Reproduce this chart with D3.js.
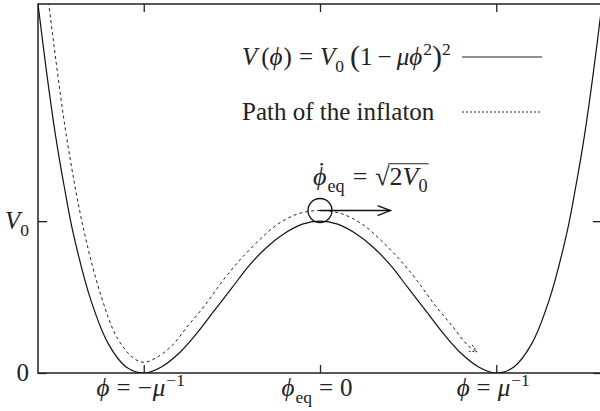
<!DOCTYPE html>
<html>
<head>
<meta charset="utf-8">
<script src="https://cdn.jsdelivr.net/npm/d3@7"></script>
</head>
<body style="margin:0">
<script>
// potential V(phi) (units of V0, phi in units of 1/mu)
var phi = [-1.6, -1.55, -1.5, -1.45, -1.4, -1.3, -1.2, -1.1, -1.0, -0.9, -0.8, -0.7, -0.6, -0.5, -0.4, -0.3, -0.2, -0.1, 0,
           0.1, 0.2, 0.3, 0.4, 0.5, 0.6, 0.7, 0.8, 0.9, 1.0, 1.1, 1.2, 1.3, 1.4, 1.45, 1.5, 1.55, 1.6]
var potential = [2.43, 1.97, 1.56, 1.22, 0.92, 0.48, 0.19, 0.04, 0, 0.04, 0.13, 0.26, 0.41, 0.56, 0.71, 0.83, 0.92, 0.98, 1,
                 0.98, 0.92, 0.83, 0.71, 0.56, 0.41, 0.26, 0.13, 0.04, 0, 0.04, 0.19, 0.48, 0.92, 1.22, 1.56, 1.97, 2.43]

// dashed "path of the inflaton"
var pathPhi = [-1.54, -1.44, -1.34, -1.24, -1.15, -1.06, -1.0, -0.93, -0.84, -0.75, -0.65, -0.55, -0.45, -0.34, -0.24, -0.12, 0,
               0.12, 0.24, 0.34, 0.45, 0.55, 0.65, 0.75, 0.84, 0.89]
var pathV = [2.44, 1.57, 0.94, 0.50, 0.23, 0.10, 0.07, 0.10, 0.18, 0.31, 0.45, 0.61, 0.75, 0.88, 0.98, 1.05, 1.07,
             1.05, 0.98, 0.88, 0.75, 0.61, 0.45, 0.31, 0.18, 0.14]

var xTicks = [-1, 0, 1]
var yTicks = [0, 1]
// label pieces: [text, kind, gap before]  kind: "" roman, "i" italic, "sub", "sup", "big"
var xTickLabels = [
  [["ϕ", "i"], ["=", "", 7], ["−", "", 7], ["μ", "i", 1], ["−1", "sup", 1]],
  [["ϕ", "i"], ["eq", "sub", 1], ["=", "", 7], ["0", "", 7]],
  [["ϕ", "i"], ["=", "", 7], ["μ", "i", 7], ["−1", "sup", 1]]
]
var yTickLabels = [
  [["0", ""]],
  [["V", "i"], ["0", "sub"]]
]
var legendLabels = [
  [["V", "i"], ["(", "", 4], ["ϕ", "i"], [")", "", 1], ["=", "", 7], ["V", "i", 7], ["0", "sub"], ["(", "big", 6], ["1", ""], ["−", "", 5],
   ["μϕ", "i", 5], ["2", "sup", 1], [")", "big"], ["2", "sup"]],
  [["Path of the inflaton", ""]]
]
var kickPhi = 0, kickV = 1.07, kickTo = 0.4   // circle + velocity arrow
var kickLabel = [["ϕ", "i"], ["eq", "sub", 1], ["=", "", 8], ["√", "", 8], ["2", ""], ["V", "i"], ["0", "sub"]]

var font = "Liberation Serif"
var width = 600, height = 411
var margin = {top: 4, right: -2, bottom: 38, left: 38}

var svg = d3.select("body").append("svg")
  .attr("width", width).attr("height", height)

var x = d3.scaleLinear().domain([-1.6, 1.6]).range([margin.left, width - margin.right])
var y = d3.scaleLinear().domain([0, 2.43]).range([height - margin.bottom, margin.top])

// each piece is its own text element, laid out left to right
function mathText(parent, px, py, parts, anchor, size) {
  var g = parent.append("g")
  var cur = 0, pieces = []
  parts.forEach(function(p) {
    var kind = p[1]
    var fs = kind == "sub" || kind == "sup" ? size * 0.7 : kind == "big" ? size * 1.2 : size
    var dy = kind == "sub" ? size * 0.28 : kind == "sup" ? -size * 0.4 : kind == "big" ? size * 0.05 : 0
    cur += p[2] || 0
    var t = g.append("text").attr("x", cur).attr("y", dy)
      .attr("font-family", font).attr("font-size", fs).attr("fill", "#222")
      .attr("font-style", kind == "i" ? "italic" : "normal")
      .text(p[0])
    var w = t.node().getComputedTextLength()
    pieces.push({x: cur, w: w})
    cur += w
  })
  var off = anchor == "middle" ? -cur / 2 : anchor == "end" ? -cur : 0
  g.attr("transform", "translate(" + (px + off) + "," + py + ")")
  pieces.forEach(function(pc) { pc.x += px + off })
  return pieces
}

var defs = svg.append("defs")
defs.append("clipPath").attr("id", "clip")
  .append("rect").attr("x", x.range()[0]).attr("y", y.range()[1])
  .attr("width", x.range()[1] - x.range()[0]).attr("height", y.range()[0] - y.range()[1])

defs.append("marker").attr("id", "dashHead").attr("viewBox", "0 0 10 10")
  .attr("refX", 9).attr("refY", 5).attr("markerWidth", 9).attr("markerHeight", 9)
  .attr("markerUnits", "userSpaceOnUse").attr("orient", "auto")
  .append("path").attr("d", "M1,1 L9,5 L1,9").attr("fill", "none")
  .attr("stroke", "#222").attr("stroke-width", 1).attr("stroke-dasharray", "2,2")

// frame + inward ticks on all sides
var frame = svg.append("g")
frame.append("rect")
  .attr("x", x.range()[0]).attr("y", y.range()[1])
  .attr("width", x.range()[1] - x.range()[0]).attr("height", y.range()[0] - y.range()[1])
  .attr("fill", "none").attr("stroke", "#222").attr("stroke-width", 1.5)

function tickAxis(axis, tr, vals) {
  var g = frame.append("g").attr("transform", tr)
    .call(axis.tickValues(vals).tickSizeOuter(0).tickFormat(""))
  g.select(".domain").remove()
  g.selectAll(".tick line").attr("stroke", "#222").attr("stroke-width", 1.3)
}
tickAxis(d3.axisBottom(x).tickSize(-8), "translate(0," + y(0) + ")", xTicks)
tickAxis(d3.axisTop(x).tickSize(-8), "translate(0," + y(2.43) + ")", xTicks)
tickAxis(d3.axisLeft(y).tickSize(-9), "translate(" + x(-1.6) + ",0)", yTicks)
tickAxis(d3.axisRight(y).tickSize(-9), "translate(" + x(1.6) + ",0)", yTicks)

xTicks.forEach(function(t, i) {
  mathText(svg, x(t) - 3, y(0) + 23, xTickLabels[i], "middle", 25)
})
yTicks.forEach(function(t, i) {
  mathText(svg, x(-1.6) - 9, y(t) + 8, yTickLabels[i], "end", 25)
})

// curves
var plot = svg.append("g").attr("clip-path", "url(#clip)")
var line = d3.line().x(function(d) { return x(d[0]) }).y(function(d) { return y(d[1]) })
  .curve(d3.curveCatmullRom.alpha(0.5))

plot.append("path").datum(d3.zip(phi, potential)).attr("d", line)
  .attr("fill", "none").attr("stroke", "#111").attr("stroke-width", 1.2)

svg.append("path").datum(d3.zip(pathPhi, pathV)).attr("d", line)
  .attr("clip-path", "url(#clip)")
  .attr("fill", "none").attr("stroke", "#222").attr("stroke-width", 1)
  .attr("stroke-dasharray", "3,3").attr("marker-end", "url(#dashHead)")

// kick annotation
var cx = x(kickPhi), cy = y(kickV)
svg.append("circle").attr("cx", cx).attr("cy", cy).attr("r", 12)
  .attr("fill", "none").attr("stroke", "#111").attr("stroke-width", 1.3)
svg.append("line").attr("x1", cx).attr("y1", cy).attr("x2", x(kickTo)).attr("y2", cy)
  .attr("stroke", "#111").attr("stroke-width", 1.3)
svg.append("path")
  .attr("d", "M" + (x(kickTo) - 13) + "," + (cy - 5) + "L" + x(kickTo) + "," + cy + "L" + (x(kickTo) - 13) + "," + (cy + 5))
  .attr("fill", "none").attr("stroke", "#111").attr("stroke-width", 1.3)

var ly0 = cy - 26, ks = 26
var kp = mathText(svg, cx - 7, ly0, kickLabel, "start", ks)
svg.append("circle").attr("cx", kp[0].x + kp[0].w / 2 + 2).attr("cy", ly0 - 0.78 * ks).attr("r", 1.3).attr("fill", "#222")
var last = kp[kp.length - 1]
svg.append("line").attr("x1", kp[3].x + kp[3].w - 1.5).attr("x2", last.x + last.w + 1)
  .attr("y1", ly0 - 0.8 * ks).attr("y2", ly0 - 0.8 * ks)
  .attr("stroke", "#222").attr("stroke-width", 1.1)

// legend
var legend = svg.append("g")
legendLabels.forEach(function(parts, i) {
  var ly = 57 + i * 55
  mathText(legend, 242, ly + 8, parts, "start", 25)
  legend.append("line").attr("x1", 462).attr("x2", 542).attr("y1", ly).attr("y2", ly)
    .attr("stroke", "#222").attr("stroke-width", i == 0 ? 1.2 : 1)
    .attr("stroke-dasharray", i == 0 ? null : "2,2")
})
</script>
</body>
</html>
